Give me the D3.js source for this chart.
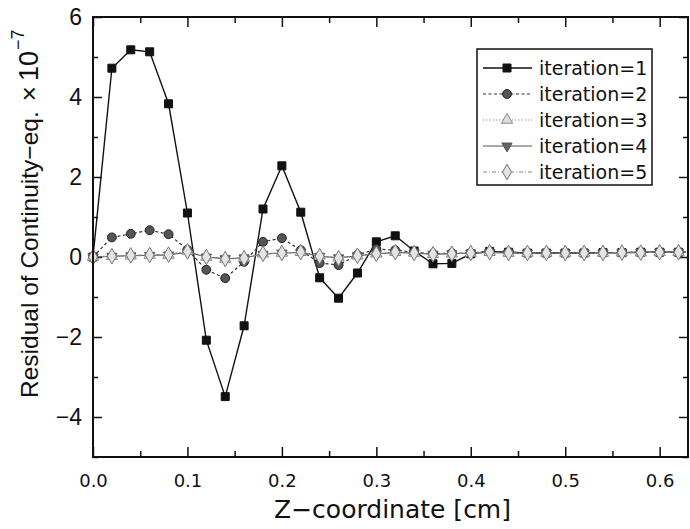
<!DOCTYPE html>
<html>
<head>
<meta charset="utf-8">
<script src="https://cdn.jsdelivr.net/npm/d3@7"></script>
<style>
  body { margin: 0; background: #fff; }
  svg { display: block; }
</style>
</head>
<body>
<svg id="chart" width="690" height="529"></svg>
<script>
// data, residual values in units of 1e-7
var zCoord = [0.00, 0.02, 0.04, 0.06, 0.08, 0.10, 0.12, 0.14, 0.16, 0.18, 0.20,
              0.22, 0.24, 0.26, 0.28, 0.30, 0.32, 0.34, 0.36, 0.38, 0.40, 0.42,
              0.44, 0.46, 0.48, 0.50, 0.52, 0.54, 0.56, 0.58, 0.60, 0.62, 0.64];

var iter1 = [0, 4.72, 5.18, 5.13, 3.83, 1.1, -2.08, -3.49, -1.72, 1.2, 2.28,
             1.12, -0.52, -1.03, -0.4, 0.38, 0.53, 0.15, -0.17, -0.16, 0.08, 0.14,
             0.12, 0.1, 0.1, 0.1, 0.1, 0.11, 0.11, 0.12, 0.12, 0.12, 0.12];
var iter2 = [0, 0.49, 0.58, 0.67, 0.57, 0.18, -0.32, -0.53, -0.12, 0.38, 0.47,
             0.17, -0.15, -0.2, 0.05, 0.2, 0.17, 0.12, 0.08, 0.1, 0.1, 0.14,
             0.12, 0.1, 0.1, 0.1, 0.1, 0.11, 0.11, 0.12, 0.12, 0.12, 0.12];
var iter3 = [0, 0.02, 0.03, 0.05, 0.05, 0.15, 0.0, -0.05, -0.03, 0.08, 0.1,
             0.12, 0.03, -0.02, 0.03, 0.08, 0.12, 0.1, 0.07, 0.08, 0.1, 0.12,
             0.1, 0.1, 0.1, 0.1, 0.1, 0.1, 0.11, 0.11, 0.12, 0.12, 0.12];
var iter4 = [0, 0.02, 0.03, 0.04, 0.05, 0.12, 0.0, -0.04, -0.02, 0.07, 0.1,
             0.11, 0.02, -0.02, 0.03, 0.08, 0.11, 0.1, 0.07, 0.08, 0.1, 0.11,
             0.1, 0.1, 0.1, 0.1, 0.1, 0.1, 0.11, 0.11, 0.12, 0.12, 0.12];
var iter5 = [0, 0.02, 0.04, 0.05, 0.06, 0.14, 0.0, -0.05, -0.03, 0.08, 0.1,
             0.12, 0.02, -0.03, 0.03, 0.08, 0.12, 0.1, 0.07, 0.08, 0.1, 0.12,
             0.1, 0.1, 0.1, 0.1, 0.1, 0.1, 0.11, 0.11, 0.12, 0.12, 0.12];

var seriesNames = ["iteration=1", "iteration=2", "iteration=3", "iteration=4", "iteration=5"];
var seriesValues = [iter1, iter2, iter3, iter4, iter5];

var xTicks = [0, 0.1, 0.2, 0.3, 0.4, 0.5, 0.6];
var xMinor = [0.05, 0.15, 0.25, 0.35, 0.45, 0.55];
var yTicks = [-4, -2, 0, 2, 4, 6];
var yMinor = [-5, -3, -1, 1, 3, 5];

// look of each series: line, marker
var styles = [
  { dash: null,      stroke: "#111", width: 1.4, sym: d3.symbolSquare,   size: 64, fill: "#111", mstroke: "#111" },
  { dash: "3,2.5",   stroke: "#333", width: 1.2, sym: d3.symbolCircle,   size: 62, fill: "#555", mstroke: "#222" },
  { dash: "1.2,2",   stroke: "#888", width: 1.2, sym: d3.symbolTriangle, size: 55, fill: "#ddd", mstroke: "#888" },
  { dash: null,      stroke: "#555", width: 1,   sym: d3.symbolTriangle, size: 45, fill: "#666", mstroke: "#555", down: true },
  { dash: "4,2,1,2", stroke: "#888", width: 1.2, sym: d3.symbolDiamond,  size: 70, fill: "#e4e4e4", mstroke: "#777" }
];

var margin = {top: 17, right: 2, bottom: 72, left: 93},
    width = 690 - margin.left - margin.right,
    height = 529 - margin.top - margin.bottom;

var svg = d3.select("#chart");
var g = svg.append("g").attr("transform", "translate(" + margin.left + "," + margin.top + ")");

var x = d3.scaleLinear().domain([0, 0.63]).range([0, width]);
var y = d3.scaleLinear().domain([-5, 6]).range([height, 0]);

// axes, ticks pointing inward on all four sides
function styleAxis(sel) {
  sel.select(".domain").remove();
  sel.selectAll(".tick line").attr("stroke", "#111").attr("stroke-width", 1.5);
}

g.append("g").attr("transform", "translate(0," + height + ")")
  .call(d3.axisBottom(x).tickValues(xTicks).tickSize(-10).tickPadding(17).tickFormat(d3.format(".1f")))
  .call(styleAxis)
  .selectAll("text").style("font-family", "DejaVu Sans").style("font-size", "18px").attr("fill", "#111");
g.append("g").attr("transform", "translate(0," + height + ")")
  .call(d3.axisBottom(x).tickValues(xMinor).tickSize(-6).tickFormat(""))
  .call(styleAxis);
g.append("g")
  .call(d3.axisTop(x).tickValues(xTicks).tickSize(-10).tickFormat(""))
  .call(styleAxis);
g.append("g")
  .call(d3.axisTop(x).tickValues(xMinor).tickSize(-6).tickFormat(""))
  .call(styleAxis);

g.append("g")
  .call(d3.axisLeft(y).tickValues(yTicks).tickSize(-9).tickPadding(11).tickFormat(d3.format("d")))
  .call(styleAxis)
  .selectAll("text").style("font-family", "Liberation Sans").style("font-size", "23px").attr("fill", "#111");
g.append("g")
  .call(d3.axisLeft(y).tickValues(yMinor).tickSize(-5).tickFormat(""))
  .call(styleAxis);
g.append("g").attr("transform", "translate(" + width + ",0)")
  .call(d3.axisRight(y).tickValues(yTicks).tickSize(-9).tickFormat(""))
  .call(styleAxis);
g.append("g").attr("transform", "translate(" + width + ",0)")
  .call(d3.axisRight(y).tickValues(yMinor).tickSize(-5).tickFormat(""))
  .call(styleAxis);

// series
g.append("clipPath").attr("id", "plotClip")
  .append("rect").attr("x", -6).attr("y", -6).attr("width", width + 4).attr("height", height + 12);

var plot = g.append("g").attr("clip-path", "url(#plotClip)");

var line = d3.line()
  .x(function(d, i) { return x(zCoord[i]); })
  .y(function(d) { return y(d); });

function drawMarker(sel, st) {
  sel.attr("d", d3.symbol().type(st.sym).size(st.size))
    .attr("fill", st.fill)
    .attr("stroke", st.mstroke)
    .attr("stroke-width", 1);
}

seriesValues.forEach(function(vals, k) {
  var st = styles[k];
  plot.append("path")
    .datum(vals)
    .attr("d", line)
    .attr("fill", "none")
    .attr("stroke", st.stroke)
    .attr("stroke-width", st.width)
    .attr("stroke-dasharray", st.dash);
});

seriesValues.forEach(function(vals, k) {
  var st = styles[k];
  plot.append("g").selectAll("path")
    .data(vals)
    .enter()
    .append("path")
    .attr("transform", function(d, i) {
      return "translate(" + x(zCoord[i]) + "," + y(d) + ")" + (st.down ? " rotate(180)" : "");
    })
    .call(drawMarker, st);
});

// frame
g.append("rect")
  .attr("width", width).attr("height", height)
  .attr("fill", "none").attr("stroke", "#111").attr("stroke-width", 2);

// legend
var legend = g.append("g").attr("transform", "translate(" + (477 - margin.left) + "," + (49 - margin.top) + ")");
legend.append("rect")
  .attr("width", 175).attr("height", 136)
  .attr("fill", "#fff").attr("stroke", "#111").attr("stroke-width", 1.5);

seriesNames.forEach(function(name, k) {
  var st = styles[k];
  var row = legend.append("g").attr("transform", "translate(0," + (19 + k * 26) + ")");
  row.append("line")
    .attr("x1", 6).attr("x2", 55).attr("y1", 0).attr("y2", 0)
    .attr("stroke", st.stroke).attr("stroke-width", st.width)
    .attr("stroke-dasharray", st.dash);
  row.append("path")
    .attr("transform", "translate(30,0)" + (st.down ? " rotate(180)" : ""))
    .call(drawMarker, st);
  row.append("text")
    .attr("x", 62).attr("y", 0).attr("dy", "0.36em")
    .style("font-family", "DejaVu Sans").style("font-size", "19px")
    .attr("fill", "#111")
    .text(name);
});

// axis titles
svg.append("text")
  .attr("x", margin.left + width / 2 + 2).attr("y", 518)
  .attr("text-anchor", "middle")
  .style("font-family", "DejaVu Sans").style("font-size", "25px")
  .attr("fill", "#111")
  .text("Z\u2212coordinate [cm]");

var ylab = svg.append("text")
  .attr("transform", "translate(38,398) rotate(-90)")
  .style("font-family", "Liberation Sans").style("font-size", "24.5px")
  .attr("fill", "#111");
ylab.append("tspan").text("Residual of Continuity\u2212eq.");
ylab.append("tspan").attr("dx", 10).style("font-size", "26px").text("\u00d7");
ylab.append("tspan").attr("dx", 5).style("font-size", "27px").text("10");
ylab.append("tspan").attr("dy", -14).attr("dx", 1).style("font-size", "18px").text("\u22127");
</script>
</body>
</html>
